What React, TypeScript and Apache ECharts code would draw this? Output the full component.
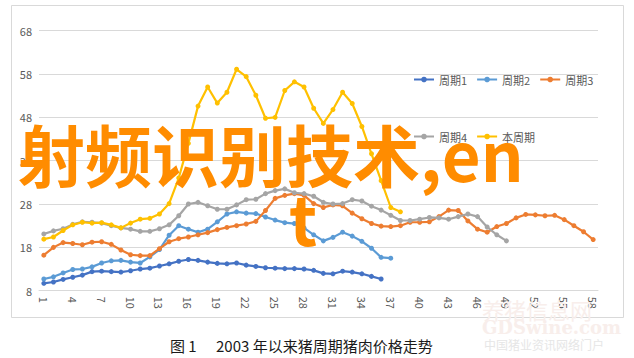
import React, { useEffect, useRef } from 'react';
import * as echarts from 'echarts';

const months = Array.from({ length: 58 }, (_, i) => String(i + 1));

const cycle1 = [9.7, 10.0, 10.6, 11.1, 11.6, 12.4, 12.5, 12.4, 12.3, 12.6, 13.0, 13.2, 13.7, 14.2, 14.8, 15.2, 15.0, 14.6, 14.3, 14.2, 14.4, 13.9, 13.6, 13.3, 13.2, 13.1, 13.1, 13.0, 12.7, 12.0, 11.9, 12.5, 12.3, 11.9, 11.3, 10.7];
const cycle2 = [10.7, 11.2, 12.1, 12.9, 13.0, 13.5, 14.4, 14.9, 15.0, 14.6, 14.4, 15.8, 17.5, 20.8, 23.0, 22.2, 21.5, 22.2, 23.9, 25.7, 26.2, 25.9, 25.8, 25.0, 24.3, 23.7, 23.5, 22.5, 20.9, 19.5, 20.3, 21.5, 20.6, 19.4, 17.8, 15.7, 15.5];
const cycle3 = [16.2, 18.0, 19.1, 18.9, 18.6, 19.2, 19.3, 18.7, 17.4, 16.3, 16.1, 16.1, 17.7, 19.3, 20.0, 20.4, 20.9, 21.4, 22.1, 22.6, 23.0, 23.4, 24.0, 26.5, 29.3, 30.0, 30.4, 30.0, 28.1, 27.2, 27.8, 27.6, 25.9, 24.6, 23.5, 22.9, 22.8, 23.0, 23.8, 23.8, 23.9, 25.1, 26.6, 26.5, 24.1, 22.2, 21.5, 22.8, 23.5, 24.8, 25.6, 25.5, 25.3, 25.4, 24.4, 23.0, 21.6, 19.8];
const cycle4 = [21.1, 21.8, 22.3, 23.3, 23.9, 23.8, 23.6, 23.0, 22.5, 22.2, 21.7, 21.7, 22.3, 23.2, 25.3, 28.0, 28.4, 27.6, 26.8, 26.8, 27.8, 29.0, 29.1, 30.4, 31.1, 31.5, 30.6, 30.4, 29.8, 28.4, 28.0, 28.1, 29.0, 28.7, 27.5, 26.6, 25.4, 24.2, 24.2, 24.5, 24.9, 24.8, 24.5, 25.1, 25.7, 25.1, 22.7, 20.9, 19.5];
const current = [19.9, 20.4, 21.9, 23.2, 23.8, 23.6, 23.7, 23.2, 22.5, 23.6, 24.5, 24.7, 25.7, 28.1, 34.0, 42.0, 50.6, 55.0, 51.3, 53.8, 59.1, 57.4, 53.1, 47.8, 48.0, 54.2, 56.2, 55.0, 50.1, 46.6, 49.8, 53.8, 51.2, 45.9, 39.6, 33.4, 27.2, 26.2];

const seriesNames = ['周期1', '周期2', '周期3', '周期4', '本周期'];
const seriesColors = ['#4472C4', '#5B9BD5', '#ED7D31', '#A5A5A5', '#FFC000'];
const seriesData = [cycle1, cycle2, cycle3, cycle4, current];

const FONT = '"Noto Sans CJK SC", "Noto Sans", sans-serif';

export default function App() {
  const ref = useRef<HTMLDivElement>(null);
  useEffect(() => {
    const chart = echarts.init(ref.current!, null, { renderer: 'svg' });
    chart.setOption({
      animation: false,
      backgroundColor: '#ffffff',
      textStyle: { fontFamily: FONT },
      grid: { left: 39, right: 36, top: 30.7, bottom: 67.3, containLabel: false },
      legend: [
        {
          data: seriesNames.slice(0, 3),
          left: 408,
          top: 69,
          itemWidth: 20,
          itemHeight: 7,
          itemGap: 9,
          textStyle: { fontSize: 11, color: '#595959', fontFamily: FONT },
        },
        {
          data: seriesNames.slice(3),
          left: 408,
          top: 126,
          itemWidth: 20,
          itemHeight: 7,
          itemGap: 9,
          textStyle: { fontSize: 11, color: '#595959', fontFamily: FONT },
        },
      ],
      xAxis: {
        type: 'category',
        data: months,
        boundaryGap: true,
        axisLine: { lineStyle: { color: '#D9D9D9', width: 1 } },
        axisTick: { show: false },
        axisLabel: { interval: 2, rotate: -90, fontSize: 11, color: '#595959', margin: 6, fontFamily: FONT },
      },
      yAxis: {
        type: 'value',
        min: 8,
        max: 68,
        interval: 10,
        axisLine: { show: false },
        axisTick: { show: false },
        axisLabel: { fontSize: 11, color: '#595959', margin: 7, fontFamily: FONT },
        splitLine: { lineStyle: { color: '#D9D9D9', width: 1 } },
      },
      series: seriesNames.map((name, i) => ({
        name,
        type: 'line',
        data: seriesData[i],
        symbol: 'circle',
        symbolSize: 5,
        showSymbol: true,
        itemStyle: { color: seriesColors[i] },
        lineStyle: { color: seriesColors[i], width: 2.2 },
        z: 2 + i,
      })),
      graphic: [
        {
          type: 'rect',
          shape: { x: 11.5, y: 5.5, width: 612, height: 312 },
          style: { fill: 'none', stroke: '#D9D9D9', lineWidth: 1 },
          z: 0,
          silent: true,
        },
        {
          type: 'text',
          x: 482,
          y: 298,
          style: { text: '养猪信息网', fill: '#f8eeeb', font: `22px ${FONT}` },
          z: 1,
          silent: true,
        },
        {
          type: 'text',
          x: 482,
          y: 318,
          style: { text: 'GDSwine.com', fill: '#f8eeeb', font: `bold 18px "DejaVu Serif", serif` },
          z: 1,
          silent: true,
        },
        {
          type: 'text',
          x: 484,
          y: 338,
          style: { text: '中国猪业资讯网络门户', fill: '#e6e6e6', font: `12px ${FONT}` },
          z: 1,
          silent: true,
        },
        {
          type: 'text',
          x: 170,
          y: 345,
          style: { text: '图 1', fill: '#1a1a1a', font: `15px ${FONT}`, verticalAlign: 'middle' },
          z: 10,
        },
        {
          type: 'text',
          x: 216,
          y: 345,
          style: { text: '2003 年以来猪周期猪肉价格走势', fill: '#1a1a1a', font: `15px ${FONT}`, verticalAlign: 'middle' },
          z: 10,
        },
        {
          type: 'text',
          x: 18,
          y: 152,
          style: { text: '射频识别技术,en', fill: '#FF8C00', font: `bold 67px ${FONT}`, verticalAlign: 'middle' },
          z: 100,
        },
        {
          type: 'text',
          x: 289,
          y: 216,
          style: { text: 't', fill: '#FF8C00', font: `bold 67px ${FONT}`, verticalAlign: 'middle' },
          z: 100,
        },
      ],
    });
    return () => chart.dispose();
  }, []);
  return <div ref={ref} style={{ position: 'absolute', left: 0, top: 0, width: 634, height: 358 }} />;
}
